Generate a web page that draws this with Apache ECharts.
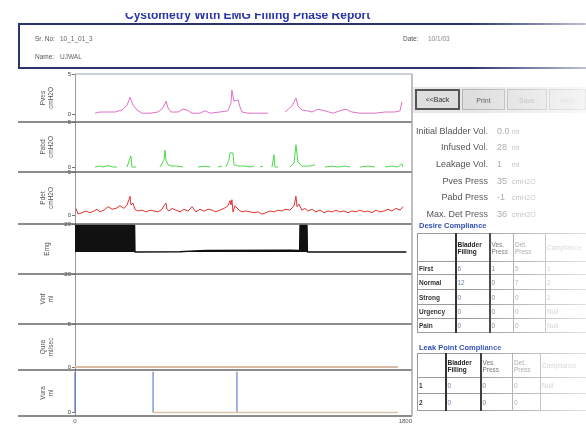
<!DOCTYPE html>
<html><head><meta charset="utf-8">
<script src="https://cdn.jsdelivr.net/npm/echarts@6/dist/echarts.min.js"></script>
<style>
html,body{margin:0;padding:0;background:#fff;width:586px;height:424px;overflow:hidden;font-family:"Liberation Sans",Arial,sans-serif;}
#chart{position:absolute;left:0;top:0;width:586px;height:424px;}
.abs{position:absolute;white-space:nowrap;}
.lbl{font-size:9px;line-height:11px;color:#555;}
.hd{font-size:6.5px;line-height:8px;color:#555;}
.btn{position:absolute;top:89px;height:21px;line-height:21px;text-align:center;font-size:7px;background:#dedede;border:1px solid #b5b5b5;box-sizing:border-box;}
table.t{position:absolute;border-collapse:collapse;font-size:6.5px;line-height:7px;table-layout:fixed;}
table.t td{border:1px solid #9a9a9a;padding:0 1px;vertical-align:middle;overflow:hidden;white-space:normal;}
table.t{border:1.5px solid #333;}
table.t td.b{border-right:2px solid #333;}
.rl{font-weight:bold;color:#333;}
</style></head><body>
<div id="chart"></div>

<!-- title and header -->
<div class="abs" style="left:0;top:13px;width:497px;height:9px;overflow:hidden;">
  <div style="position:absolute;left:125px;top:-5px;font:bold 12px 'Liberation Sans',Arial;color:#2b36a8;">Cystometry With EMG Filling Phase Report</div>
</div>
<div class="abs" style="left:18px;top:23px;width:580px;height:42px;border:2px solid #2b3470;border-right:none;"></div>
<div class="abs hd" style="left:35px;top:35px;">Sr. No:</div>
<div class="abs hd" style="left:60px;top:35px;color:#666;">10_1_01_3</div>
<div class="abs hd" style="left:35px;top:53px;">Name:</div>
<div class="abs hd" style="left:60px;top:53px;color:#666;">UJWAL</div>
<div class="abs hd" style="left:403px;top:35px;">Date:</div>
<div class="abs hd" style="left:428px;top:35px;color:#888;">10/1/03</div>

<!-- buttons -->
<div class="abs" style="left:413px;top:87px;width:173px;height:26px;background:#e8e8e8;"></div>
<div class="btn" style="left:415px;width:45px;border:2px solid #555;line-height:17px;color:#333;">&lt;&lt;Back</div>
<div class="btn" style="left:462px;width:43px;color:#555;">Print</div>
<div class="btn" style="left:507px;width:40px;color:#aaa;">Save</div>
<div class="btn" style="left:549px;width:37px;color:#bbb;">Next</div>

<!-- summary -->
<div id="stats"></div>

<div class="abs" style="left:419px;top:221px;font-size:7.5px;font-weight:bold;color:#2f4eb0;">Desire Compliance</div>
<table class="t" style="left:417px;top:233px;width:188px;">
<colgroup><col style="width:38px"><col style="width:34px"><col style="width:24px"><col style="width:32px"><col style="width:60px"></colgroup>
<tbody id="tb1"></tbody></table>

<div class="abs" style="left:419px;top:343px;font-size:7.5px;font-weight:bold;color:#2f4eb0;">Leak Point Compliance</div>
<table class="t" style="left:417px;top:353px;width:188px;">
<colgroup><col style="width:28px"><col style="width:35px"><col style="width:32px"><col style="width:28px"><col style="width:65px"></colgroup>
<tbody id="tb2"></tbody></table>

<div class="abs" style="left:470px;top:0;width:116px;height:424px;background:linear-gradient(to right,rgba(255,255,255,0),rgba(255,255,255,0.7));pointer-events:none;"></div>

<script>
// ---------------- data ----------------
const timeRange = [0, 1800];
const channelNames = ['Pves\ncmH2O', 'Pabd\ncmH2O', 'Pdet\ncmH2O', 'Emg', 'Vinf\nml', 'Qura\nml/sec', 'Vura\nml'];
const tickValues = [[0, 5], [0, 5], [0, 5], [-20, 20], [], [0, 5], [0]];

const pvesData = [[107,0.1],[134,0.25],[214,0.25],[251,0.5],[278,1.1],[294,2.1],[310,1.1],[331,0.5],[358,0.1],[401,0.1],[443,0.25],[470,0.75],[486,1.6],[497,0.75],[513,0.25],[550,0.25],[577,0.6],[598,0.5],[625,0.1],[668,0.1],[694,0.4],[721,0.1],[774,0.25],[817,0.4],[833,1.4],[838,3.0],[849,1.6],[871,1.75],[881,0.9],[892,0.25],[924,0.1],[977,0.1],[1031,0.1],[1070,'-'],[1122,0.25],[1159,1.0],[1180,2.0],[1191,1.0],[1212,0.5],[1239,0.4],[1266,0.25],[1298,0.6],[1335,0.4],[1378,0.1],[1415,0.4],[1447,0.6],[1479,0.25],[1522,0.1],[1602,0.1],[1656,0.25],[1709,0.25],[1736,0.4],[1746,1.5]];

const pabdData = [[107,0.05],[134,0.15],[150,0.05],[176,0.2],[203,0.05],[224,0.05],[230,'-'],[278,0.05],[294,1.0],[299,1.25],[304,0.05],[326,0.05],[330,'-'],[454,0.05],[475,0.8],[481,1.9],[486,0.8],[497,0.3],[518,0.15],[550,0.15],[577,0.05],[590,'-'],[657,0.05],[694,0.15],[721,0.05],[730,'-'],[764,0.05],[785,0.15],[790,'-'],[806,0.05],[822,0.8],[828,1.6],[844,1.6],[849,0.3],[871,0.15],[908,0.15],[935,0.05],[956,0.15],[965,'-'],[988,0.05],[1004,0.15],[1010,'-'],[1052,0.05],[1058,0.8],[1063,1.4],[1068,0.05],[1084,0.05],[1090,'-'],[1148,0.05],[1170,0.5],[1180,2.5],[1191,0.6],[1212,0.15],[1255,0.15],[1282,0.3],[1290,'-'],[1335,0.05],[1373,0.15],[1405,0.05],[1442,0.15],[1469,0.05],[1480,'-'],[1522,0.05],[1565,0.15],[1602,0.05],[1610,'-'],[1656,0.05],[1693,0.15],[1725,0.05],[1746,0.4],[1752,0.05]];

const pdetData = [[5,0.8],[16,0.15],[37,0.3],[59,0.5],[80,0.3],[101,0.5],[118,0.7],[134,0.4],[155,0.6],[176,1.0],[198,0.7],[219,0.8],[240,1.1],[262,0.8],[278,1.2],[288,1.8],[294,2.2],[299,1.2],[310,1.4],[320,0.7],[336,0.5],[358,0.6],[379,0.4],[401,0.6],[422,0.5],[443,0.4],[465,0.7],[475,1.1],[486,1.4],[491,0.7],[502,0.5],[518,0.8],[539,0.6],[561,0.4],[582,0.7],[604,0.5],[625,1.0],[646,0.4],[668,0.7],[689,0.5],[710,0.7],[732,0.6],[753,0.4],[774,0.6],[796,0.8],[817,1.1],[828,1.7],[833,1.2],[838,1.8],[844,0.4],[855,1.1],[865,1.0],[876,0.6],[892,0.4],[913,0.5],[935,0.4],[956,0.3],[977,0.4],[999,0.15],[1020,0.3],[1041,0.5],[1063,0.4],[1084,0.6],[1106,0.5],[1122,0.7],[1148,0.6],[1170,1.1],[1180,2.2],[1186,1.0],[1196,1.3],[1212,0.6],[1228,0.8],[1244,0.5],[1266,0.7],[1287,0.4],[1309,0.6],[1330,0.3],[1351,0.5],[1373,0.4],[1394,0.6],[1415,0.4],[1437,0.5],[1458,0.3],[1479,0.5],[1501,0.4],[1522,0.6],[1544,0.4],[1565,0.5],[1586,0.3],[1608,0.6],[1629,0.4],[1650,0.5],[1672,0.7],[1693,0.5],[1714,0.8],[1736,0.6],[1752,1.0]];

const emgBaseline = -2.4;
const emgData = [[0,19],[318,19],[320,-2.4],[560,-2.2],[640,-1.5],[700,-1.2],[1150,-1.0],[1200,-1.2],[1202,19],[1239,19],[1241,-2.4],[1770,-2.4]];

const quraData = [[0,0],[1725,0]];
const vuraZero = [[417,0],[1725,0]];
const vuraSpikes = [[0,4.8],[417,4.8],[865,4.8]];

const statLabels = ['Initial Bladder Vol.', 'Infused Vol.', 'Leakage Vol.', 'Pves Press', 'Pabd Press', 'Max. Det Press'];
const statValues = ['0.0', '28', '1', '35', '-1', '36'];
const statUnits = ['ml', 'ml', 'ml', 'cmH2O', 'cmH2O', 'cmH2O'];

const tableHeaders = ['', 'Bladder Filling', 'Ves. Press', 'Det. Press', 'Compliance'];
const desireRows = ['First', 'Normal', 'Strong', 'Urgency', 'Pain'];
const desireValues = [['6','1','5','1'],['12','0','7','2'],['0','0','0','1'],['0','0','0','Null'],['0','0','0','Null']];
const leakRows = ['1', '2'];
const leakValues = [['0','0','0','Null'],['0','0','0','']];

// ---------------- layout ----------------
const panels = [
  {top:74, h:48, min:-1, max:5},
  {top:122, h:50, min:-0.5, max:5},
  {top:172, h:52, min:-1, max:5},
  {top:224, h:50, min:-20, max:20},
  {top:274, h:50, min:0, max:5},
  {top:324, h:46, min:-0.35, max:5},
  {top:370, h:46, min:-0.4, max:5}
];
const plotL = 75, plotR = 412, sepL = 18;

// ---------------- html panels ----------------
const stats = document.getElementById('stats');
const rowY = [126, 142, 159, 176, 192, 209];
statLabels.forEach((s, i) => {
  stats.insertAdjacentHTML('beforeend',
    `<div class="abs lbl" style="left:360px;width:128px;text-align:right;top:${rowY[i]}px;color:#555;">${s}</div>` +
    `<div class="abs lbl" style="left:497px;top:${rowY[i]}px;color:#999;">${statValues[i]}</div>` +
    `<div class="abs lbl" style="left:512px;top:${rowY[i]}px;color:#aaa;font-size:7px;">${statUnits[i]}</div>`);
});
const hdrColors = ['#222', '#222', '#666', '#888', '#aaa'];
function buildTable(id, rows, vals, hh, rh) {
  let h = `<tr style="height:${hh}px">` + tableHeaders.map((t, j) =>
    `<td class="${j < 2 ? 'b' : ''}" style="color:${hdrColors[j]};${j === 1 ? 'font-weight:bold;' : ''}">${t}</td>`).join('') + '</tr>';
  rows.forEach((r, i) => {
    h += `<tr style="height:${rh[i]}px"><td class="b rl">${r}</td>` + vals[i].map((v, j) =>
      `<td class="${j === 0 ? 'b' : ''}" style="color:${['#7080a8', '#777', '#999', '#aaa'][j]}">${v}</td>`).join('') + '</tr>';
  });
  document.getElementById(id).innerHTML = h;
}
buildTable('tb1', desireRows, desireValues, 28, [13, 15, 15, 14, 14]);
buildTable('tb2', leakRows, leakValues, 24, [16, 17]);

// ---------------- chart ----------------
const chart = echarts.init(document.getElementById('chart'));
const grids = panels.map(p => ({left: plotL, right: 586 - plotR, top: p.top, height: p.h, outerBoundsMode: 'none', containLabel: false}));
const xAxes = panels.map((p, i) => ({
  type: 'value', gridIndex: i, min: timeRange[0], max: timeRange[1],
  axisLine: {show: false}, splitLine: {show: false},
  axisTick: {show: false},
  axisLabel: {show: i === 6, customValues: timeRange, fontSize: 6, color: '#555', margin: 2, alignMaxLabel: 'right', formatter: v => String(v)}
}));
const yAxes = panels.map((p, i) => ({
  type: 'value', gridIndex: i, min: p.min, max: p.max,
  name: channelNames[i], nameLocation: 'middle', nameRotate: 90, nameGap: 20,
  nameTextStyle: {fontSize: 6.5, color: '#555', lineHeight: 8},
  axisLine: {show: true, onZero: false, lineStyle: {color: '#999', width: 1}},
  axisTick: {show: tickValues[i].length > 0, customValues: tickValues[i], length: 3, lineStyle: {color: '#777'}},
  axisLabel: {show: tickValues[i].length > 0, customValues: tickValues[i], fontSize: 6, color: '#444', margin: 4},
  splitLine: {show: false}
}));
const lineBase = {type: 'line', symbol: 'none', connectNulls: false, animation: false};
const series = [
  {...lineBase, xAxisIndex: 0, yAxisIndex: 0, data: pvesData, lineStyle: {color: '#e070c8', width: 1}},
  {...lineBase, xAxisIndex: 1, yAxisIndex: 1, data: pabdData, lineStyle: {color: '#4cd84c', width: 1}},
  {...lineBase, xAxisIndex: 2, yAxisIndex: 2, data: pdetData, lineStyle: {color: '#e53030', width: 1}},
  {...lineBase, xAxisIndex: 3, yAxisIndex: 3, data: emgData, lineStyle: {color: '#111', width: 1.5}, areaStyle: {color: '#111', opacity: 1, origin: emgBaseline}},
  {...lineBase, xAxisIndex: 5, yAxisIndex: 5, data: quraData, lineStyle: {color: '#d9bba3', width: 2}},
  {...lineBase, xAxisIndex: 6, yAxisIndex: 6, data: vuraZero, lineStyle: {color: '#dcc3ad', width: 1.5}},
  {type: 'bar', xAxisIndex: 6, yAxisIndex: 6, data: vuraSpikes, barWidth: 1, itemStyle: {color: '#4a64c8'}, animation: false}
];
const graphics = [];
panels.forEach((p, i) => {
  if (i > 0) graphics.push({type: 'line', z: 5, shape: {x1: sepL, y1: p.top, x2: plotR, y2: p.top}, style: {stroke: '#666', lineWidth: 1.5}});
});
const last = panels[panels.length - 1];
graphics.push({type: 'line', z: 5, shape: {x1: sepL, y1: last.top + last.h, x2: plotR, y2: last.top + last.h}, style: {stroke: '#666', lineWidth: 1.5}});
graphics.push({type: 'line', z: 5, shape: {x1: plotL, y1: panels[0].top, x2: plotR, y2: panels[0].top}, style: {stroke: '#b8c2d2', lineWidth: 1.5}});
graphics.push({type: 'line', z: 5, shape: {x1: plotR, y1: panels[0].top, x2: plotR, y2: last.top + last.h}, style: {stroke: '#aaa', lineWidth: 1.5}});

chart.setOption({
  animation: false,
  grid: grids, xAxis: xAxes, yAxis: yAxes, series: series, graphic: graphics
});
</script>
</body></html>
